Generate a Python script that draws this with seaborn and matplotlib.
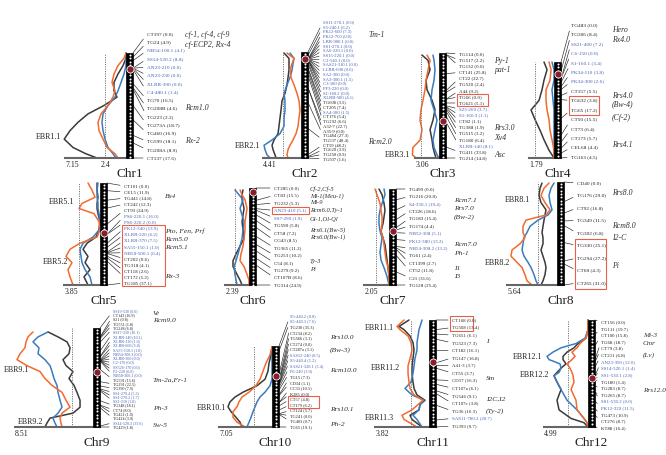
import numpy as np
import pandas as pd
import matplotlib.pyplot as plt
import matplotlib.transforms as mtransforms
import seaborn as sns
from matplotlib.patches import Rectangle

sns.set_theme(style='white')
plt.rcParams['font.family'] = ['Liberation Serif', 'DejaVu Serif']

W, H = 666, 455
PX_PER_LOD = 8.7
BAR_W = 7

ORANGE = '#f26a2e'
BLUE = '#3b7bbf'
BLACK = '#3a3a3a'
MARK_BLUE = '#4862b4'
BOX_RED = '#e8604c'

# ---------------- LOD profiles (position along chromosome 0..1, LOD) ----------------
chr1_pos = [0, 0.05, 0.12, 0.2, 0.28, 0.36, 0.42, 0.5, 0.58, 0.66, 0.74, 0.82, 0.9, 0.96, 1.0]
chr1_black = [0, 0, 0.34, 0.92, 1.38, 1.38, 1.03, 2.53, 4.37, 5.52, 6.44, 7.1, 6.09, 4.6, 3.33]
chr1_orange = [0, 0.23, 0.92, 1.38, 1.61, 1.26, 1.49, 2.07, 2.87, 3.22, 3.1, 2.64, 2.18, 1.26, 0.92]
chr1_blue = [0, 0, 0, 0.23, 0.57, 0.92, 1.26, 2.07, 2.64, 2.76, 2.64, 2.41, 2.07, 1.49, 1.15]

chr2_pos = [0.01, 0.06, 0.11, 0.17, 0.24, 0.31, 0.39, 0.46, 0.55, 0.62, 0.7, 0.77, 0.83, 0.88, 0.92, 0.97, 1.0]
chr2_black = [1.95, 1.38, 1.38, 1.38, 1.49, 1.61, 1.84, 2.18, 2.3, 2.41, 2.53, 2.64, 3.1, 3.33, 3.22, 2.99, 2.87]
chr2_orange = [1.61, 0.8, 1.03, 1.26, 1.15, 0.8, 0.46, 0.23, 0.11, 0.23, 0.34, 0.57, 0.92, 1.26, 1.49, 1.61, 1.49]
chr2_blue = [1.26, 0.8, 0.92, 1.03, 1.26, 1.61, 1.95, 1.84, 1.84, 1.95, 1.95, 2.41, 3.33, 4.25, 4.14, 3.91, 3.56]

chr3_pos = [0.02, 0.07, 0.16, 0.26, 0.35, 0.45, 0.54, 0.64, 0.73, 0.83, 0.9, 0.97, 1.0]
chr3_black = [1.95, 1.26, 1.03, 1.49, 1.38, 0.8, 0.46, 0.69, 1.03, 0.8, 0.69, 0.46, 0.34]
chr3_orange = [1.38, 1.03, 1.26, 1.49, 1.61, 1.84, 2.07, 2.18, 1.95, 2.18, 3.0, 3.06, 2.64]
chr3_blue = [0.69, 0.57, 0.46, 0.57, 0.8, 0.92, 0.57, 0.23, 0.46, 0.69, 0.57, 0.23, 0]

chr4_pos = [0, 0.08, 0.19, 0.29, 0.4, 0.5, 0.6, 0.71, 0.81, 0.92, 1.0]
chr4_black = [1.15, 0.8, 1.15, 1.38, 1.72, 2.64, 2.18, 1.61, 1.15, 0.57, 0]
chr4_orange = [0.57, 0.34, 0.46, 0.92, 0.92, 0.8, 0.57, 0.46, 0.23, 0, 0]
chr4_blue = [0.23, 0, 0, 0.23, 0.11, 0, 0, 0, 0, 0, 0]

chr5_pos = [0, 0.07, 0.14, 0.2, 0.25, 0.3, 0.38, 0.46, 0.53, 0.59, 0.65, 0.72, 0.78, 0.85, 0.92, 1.0]
chr5_black = [0.34, 0.34, 0.23, 0.34, 0.34, 0.23, 0, 0.11, 0.46, 1.49, 1.95, 1.38, 1.72, 1.15, 1.84, 1.38]
chr5_orange = [1.38, 0.92, 0.57, 2.07, 2.41, 0.69, 0.11, 0, 0.34, 2.3, 3.45, 3.91, 3.22, 3.68, 3.45, 3.1]
chr5_blue = [0.23, 0.34, 0.34, 0.23, 0.23, 0.11, 0, 0.11, 0.8, 1.95, 2.3, 2.18, 2.07, 1.72, 1.15, 0.92]

chr6_pos = [0.02, 0.07, 0.12, 0.21, 0.28, 0.35, 0.43, 0.52, 0.6, 0.68, 0.75, 0.81, 0.89, 0.95, 1.0]
chr6_black = [0.69, 0.8, 0.8, 0.57, 0.69, 0.8, 0.69, 0.57, 1.03, 1.49, 1.84, 1.84, 1.38, 1.03, 0.8]
chr6_orange = [1.03, 0.8, 0.46, 0.23, 0.34, 0.46, 0.46, 0.57, 0.69, 0.92, 1.03, 0.57, 0.23, 0, 0]
chr6_blue = [1.61, 1.15, 0.69, 1.03, 0.8, 0.57, 0.69, 0.8, 1.03, 1.26, 1.49, 1.72, 1.61, 1.49, 1.38]

chr7_pos = [0, 0.06, 0.15, 0.22, 0.29, 0.36, 0.44, 0.51, 0.58, 0.66, 0.74, 0.82, 0.91, 1.0]
chr7_black = [1.15, 0.8, 0.57, 0.46, 0.57, 0.69, 0.92, 0.69, 0.46, 0.34, 0.23, 0.11, 0, 0]
chr7_orange = [1.61, 1.38, 1.03, 0.92, 0.8, 0.8, 0.92, 0.69, 0.57, 0.46, 0.34, 0.11, 0, 0]
chr7_blue = [0.57, 0.46, 0.8, 1.03, 1.15, 1.15, 1.03, 0.8, 0.92, 1.03, 0.92, 0.57, 0.23, 0]

chr8_pos = [0.01, 0.06, 0.13, 0.2, 0.27, 0.32, 0.37, 0.43, 0.49, 0.54, 0.6, 0.66, 0.72, 0.78, 0.83, 0.9, 0.96, 1.0]
chr8_black = [1.72, 1.95, 2.07, 1.84, 1.26, 1.38, 1.49, 1.61, 1.72, 1.61, 1.61, 1.84, 1.61, 1.38, 1.26, 1.38, 1.61, 1.84]
chr8_orange = [0.92, 1.49, 1.84, 1.38, 0.8, 1.26, 3.56, 3.91, 3.91, 3.68, 4.25, 5.17, 5.29, 4.6, 4.02, 3.68, 3.45, 2.87]
chr8_blue = [0.34, 0.69, 0.92, 0.8, 0.57, 1.03, 2.18, 3.1, 3.45, 3.79, 3.91, 4.02, 3.79, 3.33, 2.99, 2.64, 2.41, 2.18]

chr9_pos = [0.04, 0.09, 0.14, 0.2, 0.26, 0.32, 0.38, 0.44, 0.51, 0.58, 0.65, 0.73, 0.8, 0.86, 0.91, 0.96, 1.0]
chr9_black = [5.17, 4.02, 2.99, 2.64, 2.76, 3.45, 3.1, 2.3, 2.76, 2.18, 1.84, 1.49, 1.49, 2.3, 4.94, 5.29, 5.52]
chr9_orange = [6.9, 7.47, 7.7, 7.82, 8.39, 8.74, 7.59, 6.09, 5.52, 4.71, 3.56, 3.1, 2.64, 3.56, 3.79, 3.68, 3.56]
chr9_blue = [5.17, 6.32, 6.9, 6.21, 6.32, 5.52, 4.94, 4.71, 4.48, 4.14, 4.02, 3.79, 3.56, 4.02, 4.6, 4.37, 4.14]

chr10_pos = [0.01, 0.11, 0.21, 0.31, 0.41, 0.49, 0.57, 0.63, 0.69, 0.75, 0.81, 0.88, 0.94, 1.0]
chr10_black = [0, 0.11, 0.34, 0.46, 0.8, 1.72, 3.33, 4.25, 4.83, 5.06, 4.71, 4.14, 3.68, 3.45]
chr10_orange = [0, 0.23, 0.69, 1.03, 1.38, 1.84, 2.64, 3.45, 3.79, 4.02, 4.48, 4.48, 4.02, 3.1]
chr10_blue = [0, 0, 0, 0, 0, 0.23, 0.8, 1.38, 1.72, 1.95, 2.18, 2.41, 2.64, 2.87]

chr11_pos = [0, 0.06, 0.09, 0.15, 0.21, 0.28, 0.36, 0.43, 0.5, 0.58, 0.64, 0.7, 0.75, 0.79, 0.84, 0.89, 0.93, 1.0]
chr11_black = [2.3, 3.45, 2.87, 2.18, 1.84, 1.72, 1.84, 1.95, 1.95, 1.84, 1.72, 1.38, 0.46, 1.03, 1.15, 2.18, 1.95, 0.8]
chr11_orange = [2.87, 3.68, 3.33, 2.41, 2.07, 1.95, 2.18, 2.41, 2.41, 2.3, 2.18, 1.72, 0.69, 1.26, 1.95, 3.1, 2.87, 1.38]
chr11_blue = [0.8, 1.03, 1.15, 1.26, 1.38, 1.38, 1.61, 1.72, 1.84, 2.07, 2.76, 1.95, 0.57, 1.03, 1.15, 1.84, 1.38, 0.8]

chr12_pos = [0, 0.09, 0.17, 0.22, 0.26, 0.3, 0.34, 0.37, 0.41, 0.45, 0.49, 0.52, 0.58, 0.65, 0.75, 0.84, 0.92, 0.96, 1.0]
chr12_black = [0, 0, 0.23, 1.15, 1.61, 2.41, 2.87, 2.87, 2.53, 3.1, 3.56, 3.91, 3.56, 3.1, 3.56, 3.33, 1.95, 0.46, 0]
chr12_orange = [0, 0, 0.23, 0.92, 1.26, 1.84, 1.49, 1.84, 2.41, 2.07, 1.84, 1.72, 1.61, 1.95, 1.38, 1.26, 0.46, 0.11, 0]
chr12_blue = [0, 0, 0.34, 1.38, 3.1, 4.02, 4.71, 4.48, 3.22, 3.1, 3.33, 3.91, 3.56, 3.1, 2.41, 1.26, 0.46, 0.11, 0]

# threshold LOD, max-LOD label, centromere position (fraction)
thresholds = [2.4, 2.07, 2.07, 2.18, 2.41, 1.61, 1.49, 2.18, 2.41, 2.07, 2.07, 2.3]
max_labels = ['7.15', '4.41', '3.06', '1.79', '3.85', '2.39', '2.05', '5.64', '8.51', '7.05', '3.82', '4.99']
centromeres = [0.15, 0.066, 0.65, 0.125, 0.49, 0.04, 0.44, None, 0.44, 0.37, 0.39, 0.54]

# ---------------- markers (name, interval cM), RGA markers in blue ----------------
chr1_markers = ['CT197', 'TG24', 'NB54-100.1', 'SS14-520.2', 'AN23-210', 'AN23-230', 'XLRR-390', 'C4-480.1',
                'TG70', 'TG208B', 'TG223', 'TG273A', 'TG460', 'TG599', 'TG208A', 'CT137']
chr1_gaps = [0.0, 4.9, 4.1, 8.8, 0.0, 0.0, 0.0, 1.4, 16.5, 4.6, 2.2, 18.7, 16.9, 18.1, 8.9, 17.6]
chr1_rga = [2, 3, 4, 5, 6, 7]

chr2_markers = ['SS11-270.1', 'S5-240.1', 'PK12-600', 'PK12-700', 'LRR-900.1', 'SS1-270.1', 'SA6-220.1',
                'SS15-220.1', 'C2-540.1', 'SAS21-310.1', 'LLRR-690', 'SA2-300', 'SA3-300.1', 'C3-180', 'PF3-220',
                'S1-160.2', 'XLRR-580', 'TG608', 'CT205', 'SA4-180', 'CT176', 'TG292', 'A32-7', 'A35-9', 'TG484',
                'TG537', 'CT59', 'TG620', 'TG250', 'TG507']
chr2_gaps = [0.0, 6.2, 7.3, 0.0, 0.0, 0.0, 0.0, 0.0, 0.0, 0.0, 0.0, 0.0, 1.5, 0.0, 0.0, 0.0, 4.1, 3.5, 7.4,
             1.5, 5.4, 6.6, 22.7, 0.0, 27.3, 48.4, 48.2, 3.9, 0.9, 1.6]
chr2_rga = list(range(17)) + [19]

chr3_markers = ['TG114', 'TG517', 'TG132', 'CT141', 'CT22', 'TG520', 'A44', 'TG66', 'TG621', 'S23-200',
                'S1-160.3', 'CT82', 'TG388', 'TG515', 'TG180', 'XLRR-140', 'TG411', 'TG214']
chr3_gaps = [0.0, 2.2, 0.0, 25.8, 22.7, 2.4, 9.2, 0.0, 5.1, 3.7, 1.1, 1.1, 1.9, 3.2, 6.4, 8.1, 33.8, 14.8]
chr3_rga = [9, 10, 15]

chr4_markers = ['TG483', 'TG306', 'SS21-400', 'C6-150', 'S1-160.1', 'PK34-110', 'PK34-300', 'CT157', 'TG632',
                'TG65', 'CT50', 'CT73', 'CT173', 'CEL68', 'TG163']
chr4_gaps = [0.0, 8.4, 7.2, 0.0, 3.4, 3.8, 2.6, 5.5, 3.8, 17.2, 15.5, 6.4, 5.7, 4.4, 4.5]
chr4_rga = [2, 3, 4, 5, 6]

chr5_markers = ['CT101', 'CEL5', 'TG441', 'CT242', 'CT93', 'PS6-220.1', 'PS6-220.2', 'PK12-340', 'XLRR-220',
                'XLRR-370', 'SA55-150.1', 'NB58-500.1', 'CT202', 'TG318', 'CT118', 'CT172', 'TG185']
chr5_gaps = [0.0, 11.9, 14.8, 12.3, 24.9, 16.0, 0.0, 13.9, 6.2, 7.5, 1.0, 0.4, 0.6, 4.1, 2.6, 5.2, 37.1]
chr5_rga = [5, 6, 7, 8, 9, 10, 11]

chr6_markers = ['CT285', 'CT83', 'TG232', 'AN23-410', 'SS7-290', 'TG590', 'CT58', 'CG43', 'TG365', 'TG253',
                'C54', 'TG279', 'CT107B', 'TG314']
chr6_gaps = [0.0, 15.5, 5.3, 5.1, 1.9, 5.8, 7.2, 8.5, 11.2, 10.2, 8.1, 9.2, 8.6, 24.9]
chr6_rga = [3, 4]

chr7_markers = ['TG499', 'TG216', 'S4-330.1', 'CT226', 'TG183', 'TG174', 'NB52-308', 'PK12-380', 'NB54-308.2',
                'TG61', 'CT1399', 'CT52', 'C21', 'TG128']
chr7_gaps = [0.0, 20.8, 19.4, 18.6, 15.4, 4.4, 5.1, 13.2, 13.2, 2.4, 2.7, 11.8, 31.6, 25.4]
chr7_rga = [2, 6, 7, 8]

chr8_markers = ['CD40', 'TG176', 'CT92', 'TG349', 'TG302', 'TG330', 'TG294', 'CT68', 'CT265']
chr8_gaps = [0.0, 29.0, 16.8, 11.5, 6.8, 25.1, 27.2, 4.3, 31.0]
chr8_rga = []

chr9_markers = ['SS19-530', 'CT143', 'S21', 'TG551', 'TG248', 'SS17-310', 'XLRR-140', 'XLRR-130', 'XLRR-600',
                'SA55-150.1', 'NB54-300.3', 'XLRR-360', 'C2-170', 'SS526-170', 'P2-220', 'NB58-300.1', 'TG591',
                'TG291', 'TG390', 'SS1-270.4', 'SS1-270.2', 'SS1-210', 'TG348', 'CT74', 'TG421', 'TG424',
                'SS14-520.3', 'TG429']
chr9_gaps = [0.0, 16.9, 0.8, 1.8, 6.8, 16.1, 10.1, 1.0, 5.0, 1.8, 0.0, 0.0, 0.0, 0.0, 0.0, 0.0, 15.6, 22.5,
             7.9, 5.3, 1.7, 1.8, 18.1, 8.0, 1.0, 3.9, 33.6, 1.8]
chr9_rga = [0] + list(range(5, 16)) + [19, 20, 21, 26]

chr10_markers = ['S5-440.2', 'S5-440.3', 'TG230', 'CT234', 'TG566', 'CT274', 'CT287a', 'SAS12-240', 'S5-440.4',
                 'SAS21-320.1', 'P6-240', 'TG15', 'CD34', 'CC33', 'K285', 'CT57', 'CT179', 'CT124', 'TG241',
                 'TG403', 'TG65']
chr10_gaps = [0.0, 7.6, 35.3, 8.2, 3.1, 0.0, 3.1, 0.5, 1.2, 3.4, 3.9, 7.3, 1.1, 10.5, 0.0, 4.8, 6.2, 5.7, 0.0,
              0.7, 19.1]
chr10_rga = [0, 1, 7, 8, 9, 10]

chr11_markers = ['CT168', 'TG508', 'TG651', 'TG523', 'CT182', 'TG147', 'A41-3', 'CT55', 'CD17', 'CT107a',
                 'TG546', 'CT107c', 'TG36', 'SAS11-780.2', 'TG393']
chr11_gaps = [0.0, 13.4, 6.1, 7.3, 16.1, 16.8, 3.7, 3.7, 16.3, 6.1, 9.1, 3.8, 16.3, 20.7, 9.7]
chr11_rga = [13]

chr12_markers = ['CT156', 'TG111', 'CT100', 'TG68', 'CT79', 'CT211', 'AN23-390', 'SS14-520.1', 'SS1-530.1',
                 'TG180', 'TG283', 'TG265', 'SS1-530.2', 'PK12-320', 'TG473', 'CT276', 'KT88']
chr12_gaps = [0.0, 19.7, 15.8, 18.7, 3.8, 6.8, 12.0, 1.4, 2.8, 1.4, 8.7, 8.7, 0.0, 11.5, 10.9, 8.7, 16.4]
chr12_rga = [6, 7, 8, 12, 13]

# ---------------- resistance genes (text, marker-row) ----------------
chr1_genes = [('cf-1, cf-4, cf-9', 0.1), ('cf-ECP2, Rx-4', 1.3), ('Rcm1.0', 9), ('Rx-2', 13)]
chr2_genes = [('Tm-1', 2.8), ('Rcm2.0', 25.4)]
chr3_genes = [('Py-1', 1.1), ('pat-1', 2.6), ('Rrs3.0', 12.1), ('Xv4', 13.7), ('Asc', 16.5)]
chr4_genes = [('Hero', 0.5), ('Rx4.0', 1.6), ('Rrs4.0', 7.5), ('(Bw-4)', 8.4), ('(Cf-2)', 9.9), ('Rrs4.1', 12.7)]
chr5_genes = [('Bs4', 1.8), ('Pto, Fen, Prf', 7.4), ('Rcm5.0', 8.9), ('Rcm5.1', 10.2), ('Rx-3', 14.9)]
chr6_genes = [('Cf-2,Cf-5', 0.1), ('Mi-1(Meu-1)', 1.1), ('Mi-9', 1.9), ('Rcm6.0,Ty-1', 2.95), ('Ol-1,Ol-Ql', 4.2),
              ('Rrs6.1(Bw-5)', 5.6), ('Rrs6.0(Bw-1)', 6.6), ('Ty-3', 9.9), ('Pi', 10.9)]
chr7_genes = [('Rcm7.1', 1.5), ('Rrs7.0', 2.6), ('(Bw-2)', 3.8), ('Rcm7.0', 7.5), ('Ph-1', 8.8), ('I1', 10.7),
              ('I3', 11.8)]
chr8_genes = [('Rrs8.0', 0.8), ('Rcm8.0', 3.4), ('I2-C', 4.4), ('Pi', 6.6)]
chr9_genes = [('Ve', 0.5), ('Rcm9.0', 2.3), ('Tm-2a,Fr-1', 16), ('Ph-3', 22.6), ('Sw-5', 26.7)]
chr10_genes = [('Rrs10.0', 3.8), ('(Bw-3)', 6.1), ('Rcm10.0', 9.9), ('Rrs10.1', 16.8), ('Ph-2', 19.5)]
chr11_genes = [('I', 2.8), ('Sm', 7.7), ('I2C,I2', 10.4), ('(Ty-2)', 12)]
chr12_genes = [('Mi-3', 2.0), ('Cmr', 3.3), ('(Lv)', 5.0), ('Rrs12.0', 10.3)]

# ---------------- EBR regions (label, position, LOD) ----------------
chr1_ebr = [('EBR1.1', 0.8, 7.5)]
chr2_ebr = [('EBR2.1', 0.89, 4.7)]
chr3_ebr = [('EBR3.1', 0.97, 3.35)]
chr5_ebr = [('EBR5.1', 0.19, 3.0), ('EBR5.2', 0.77, 3.7)]
chr8_ebr = [('EBR8.1', 0.17, 3.1), ('EBR8.2', 0.79, 5.4)]
chr9_ebr = [('EBR9.1', 0.42, 7.35), ('EBR9.2', 0.95, 5.75)]
chr10_ebr = [('EBR10.1', 0.77, 5.3)]
chr11_ebr = [('EBR11.1', 0.075, 4.0), ('EBR11.2', 0.45, 3.35), ('EBR11.3', 0.92, 4.0)]
chr12_ebr = [('EBR12.1', 0.35, 5.3), ('EBR12.2', 0.51, 4.5)]

# highlighted marker rows (first, last)
chr3_boxes = [(7, 8)]
chr4_boxes = [(8, 9)]
chr5_boxes = [(7, 16)]
chr6_boxes = [(3, 3)]
chr8_boxes = [(5, 8)]
chr10_boxes = [(15, 16)]
chr11_boxes = [(0, 1)]

# ---------------- page layout (pixels) ----------------
LAYOUT = {
    1: dict(bl=126, top=53, bot=158, lab_x=147, y0=34, y1=158, gene_x=185, max_x=72, fs=3.8, gfs=5.6, box_w=0),
    2: dict(bl=301, top=52, bot=158, lab_x=323, y0=22, y1=159, gene_x=368, max_x=270, fs=3.3, gfs=5.6, box_w=0),
    3: dict(bl=439, top=53, bot=158, lab_x=459, y0=54, y1=158, gene_x=494, max_x=422, fs=3.6, gfs=5.6, box_w=31),
    4: dict(bl=554, top=62, bot=158, lab_x=571, y0=25, y1=157, gene_x=612, max_x=536, fs=3.8, gfs=5.6, box_w=30),
    5: dict(bl=100, top=183, bot=285, lab_x=124, y0=186, y1=283, gene_x=165, max_x=71, fs=3.6, gfs=5.4, box_w=43),
    6: dict(bl=249, top=188, bot=285, lab_x=274, y0=188, y1=285, gene_x=310, max_x=232, fs=3.6, gfs=4.7, box_w=37),
    7: dict(bl=389, top=189, bot=285, lab_x=409, y0=189, y1=285, gene_x=454, max_x=371, fs=3.6, gfs=5.4, box_w=0),
    8: dict(bl=557, top=182, bot=285, lab_x=577, y0=183, y1=283, gene_x=612, max_x=514, fs=3.8, gfs=5.6, box_w=31),
    9: dict(bl=93, top=328, bot=427, lab_x=113, y0=311, y1=427, gene_x=153, max_x=22, fs=3.0, gfs=5.4, box_w=0),
    10: dict(bl=272, top=346, bot=427, lab_x=290, y0=316, y1=427, gene_x=330, max_x=226, fs=3.2, gfs=5.4, box_w=31),
    11: dict(bl=429, top=320, bot=427, lab_x=452, y0=320, y1=426, gene_x=486, max_x=382, fs=3.5, gfs=5.4, box_w=23),
    12: dict(bl=588, top=320, bot=427, lab_x=601, y0=322, y1=428, gene_x=643, max_x=551, fs=3.5, gfs=5.2, box_w=0),
}

g = globals()
fig = plt.figure(figsize=(W / 100, H / 100), dpi=100)
over = fig.add_axes([0, 0, 1, 1])
over.set_xlim(0, W)
over.set_ylim(H, 0)
over.axis('off')


def draw_chr(n):
    lay = LAYOUT[n]
    bl, top, bot = lay['bl'], lay['top'], lay['bot']
    left_px = lay['max_x'] - 7
    ax = fig.add_axes([left_px / W, 1 - bot / H, (bl + BAR_W - left_px) / W, (bot - top) / H])
    bw = BAR_W / PX_PER_LOD
    ax.set_xlim((bl - left_px) / PX_PER_LOD, -bw)
    ax.set_ylim(1, 0)
    ax.patch.set_alpha(0)
    for s in ['top', 'left', 'right']:
        ax.spines[s].set_visible(False)
    ax.spines['bottom'].set_color('#666666')
    ax.spines['bottom'].set_linewidth(1.5)
    ax.set_xticks([])
    ax.set_yticks([])

    pos = g[f'chr{n}_pos']
    df = pd.concat([pd.DataFrame({'pos': pos, 'lod': g[f'chr{n}_{t}'], 'trait': t})
                    for t in ['black', 'blue', 'orange']])
    sns.lineplot(data=df, x='lod', y='pos', hue='trait', hue_order=['black', 'blue', 'orange'],
                 palette={'black': BLACK, 'blue': BLUE, 'orange': ORANGE}, orient='y', sort=False,
                 estimator=None, legend=False, lw=1.1, ax=ax)
    for line in ax.lines:
        line.set_clip_on(False)
    ax.axvline(thresholds[n - 1], color='#777777', lw=0.7, ls=(0, (1.2, 1.2)))

    # chromosome bar
    ax.add_patch(Rectangle((-bw, 0), bw, 1, facecolor='black', edgecolor='black', lw=0.5,
                           zorder=4, clip_on=False))
    ys = np.arange(1.7, bot - top, 3.4) / (bot - top)
    ax.scatter(np.full(len(ys), -bw / 2), ys, s=2.2, c='white', linewidths=0, zorder=5, clip_on=False)
    cen = centromeres[n - 1]
    if cen is not None:
        ax.scatter([-bw / 2], [cen], s=26, c='#8c1c2c', edgecolors='white', linewidths=0.6,
                   zorder=6, clip_on=False)

    # marker labels with connecting lines
    names, gaps = g[f'chr{n}_markers'], g[f'chr{n}_gaps']
    rga = set(g[f'chr{n}_rga'])
    frac = np.cumsum(gaps) / np.sum(gaps)
    m = len(names)
    step = (lay['y1'] - lay['y0']) / (m - 1)
    for i, (name, gap) in enumerate(zip(names, gaps)):
        ly = lay['y0'] + i * step
        ax.annotate(f'{name} ({gap:.1f})', xy=(-bw, frac[i]), xycoords='data',
                    xytext=(lay['lab_x'], ly), textcoords=over.transData,
                    fontsize=lay['fs'], color=MARK_BLUE if i in rga else '#222222',
                    ha='left', va='center', annotation_clip=False,
                    arrowprops=dict(arrowstyle='-', color='#222222', lw=0.45, shrinkA=0.5, shrinkB=0,
                                    relpos=(0, 0.5)))

    for text, row in g[f'chr{n}_genes']:
        over.text(lay['gene_x'], lay['y0'] + row * step, text, fontsize=lay['gfs'], style='italic',
                  color='#333333', ha='left', va='center')

    for r0, r1 in g.get(f'chr{n}_boxes', []):
        yb = lay['y0'] + r0 * step - step / 2
        hb = (r1 - r0 + 1) * step
        over.add_patch(Rectangle((lay['lab_x'] - 2, yb), lay['box_w'], hb, fill=False,
                                 edgecolor=BOX_RED, lw=0.8))

    for text, p, lod in g.get(f'chr{n}_ebr', []):
        ax.text(lod, p, text, fontsize=5.8, ha='right', va='center', color='#222222', clip_on=False)

    over.text(lay['max_x'], bot + 7, max_labels[n - 1], fontsize=5.6, ha='center', va='center',
              color='#222222')
    if n == 1:
        tr = mtransforms.blended_transform_factory(ax.transData, over.transData)
        ax.text(thresholds[0], bot + 7, '2.4', transform=tr, fontsize=5.6, ha='center', va='center',
                color='#222222')
    over.text(bl + BAR_W / 2, bot + 16, f'Chr{n}', fontsize=9.5, ha='center', va='center',
              color='#222222')


for n in range(1, 13):
    draw_chr(n)

fig.savefig('out.png', dpi=100)
